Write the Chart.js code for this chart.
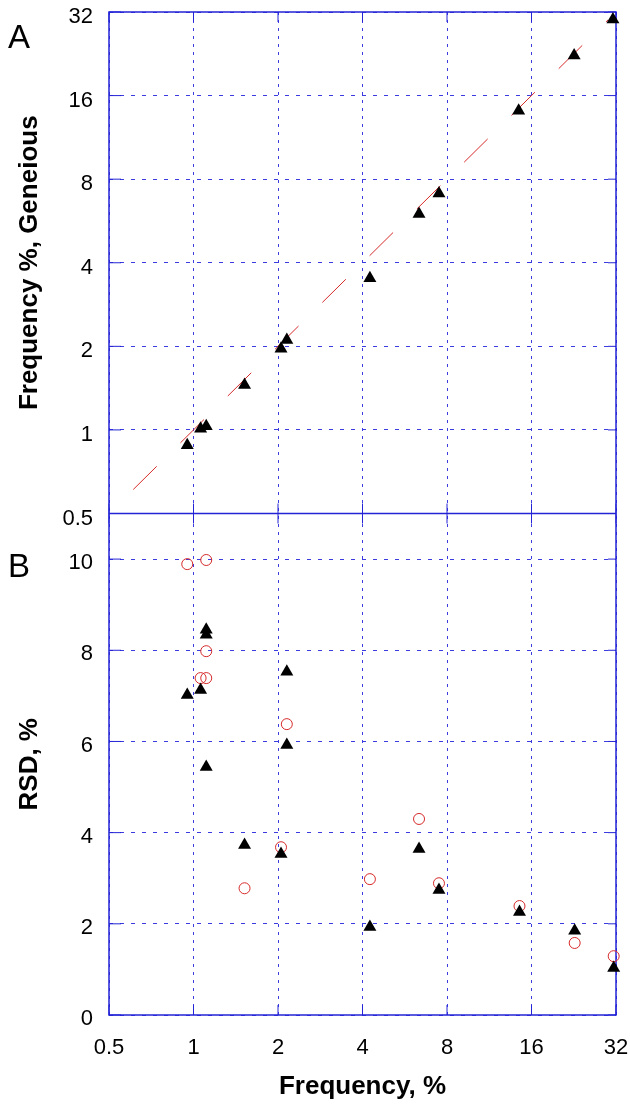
<!DOCTYPE html>
<html>
<head>
<meta charset="utf-8">
<script src="https://cdn.jsdelivr.net/npm/chart.js@4.4.1/dist/chart.umd.min.js"></script>
<style>
  html, body { margin: 0; padding: 0; background: #fff; }
  canvas { display: block; }
</style>
</head>
<body>
<canvas id="freqChart" width="630" height="1104"></canvas>
<script>
const xTicks = [0.5, 1, 2, 4, 8, 16, 32];
const yTicksA = [0.5, 1, 2, 4, 8, 16, 32];
const yTicksB = [0, 2, 4, 6, 8, 10];

// panel A: frequency vs frequency from Geneious
const geneX = [0.95, 1.06, 1.11, 1.52, 2.05, 2.15, 4.25, 6.36, 7.49, 14.4, 22.7, 31.2];
const geneY = [0.88, 1.01, 1.03, 1.45, 1.96, 2.11, 3.52, 5.99, 7.11, 14.1, 22.3, 30.1];
const fitX = [0.61, 30];
const fitY = [0.61, 30];

// panel B: RSD
const rsdTriX = [0.95, 1.06, 1.11, 1.11, 1.11, 1.52, 2.05, 2.15, 2.15, 4.25, 6.36, 7.49, 14.5, 22.8, 31.4];
const rsdTriY = [7.02, 7.13, 8.45, 8.34, 5.44, 3.73, 3.53, 7.53, 5.92, 1.93, 3.64, 2.74, 2.26, 1.85, 1.03];
const rsdCircX = [0.95, 1.06, 1.11, 1.11, 1.11, 1.52, 2.05, 2.15, 4.25, 6.36, 7.49, 14.5, 22.8, 31.4];
const rsdCircY = [9.89, 7.39, 9.98, 7.98, 7.39, 2.78, 3.68, 6.38, 2.98, 4.30, 2.89, 2.39, 1.58, 1.29];

const FONT = 'Arial, "Liberation Sans", sans-serif';
const gridColor = '#3b3be0';
const frameColor = '#2424d6';
const red = '#d62a2a';

const pts = (xs, ys) => xs.map((x, i) => ({ x, y: ys[i] }));
const setTicks = list => scale => { scale.ticks = list.map(v => ({ value: v })); };
// fixed box sizes, no extra room for labels hanging over the ends
const fitBox = (w, h) => s => {
    if (w) s.width = w;
    if (h) s.height = h;
    s.paddingTop = s.paddingBottom = s.paddingLeft = s.paddingRight = 0;
};

const tickFont = { family: FONT, size: 22 };
const titleFont = { family: FONT, size: 26, weight: 'bold' };

const framePlugin = {
    id: 'frame',
    beforeDatasetsDraw(chart) {
        const { ctx, chartArea: a, scales } = chart;
        const mid = Math.max(scales.yA.top, scales.yB.top);
        ctx.save();
        ctx.strokeStyle = frameColor;
        ctx.lineWidth = 1.5;
        ctx.strokeRect(a.left, a.top, a.right - a.left, a.bottom - a.top);
        ctx.beginPath();
        ctx.moveTo(a.left, mid);
        ctx.lineTo(a.right, mid);
        ctx.stroke();

        // short inward tick marks
        ctx.lineWidth = 1;
        ctx.beginPath();
        scales.x.ticks.forEach(t => {
            const px = scales.x.getPixelForValue(t.value);
            [[a.top, 10], [mid, -10], [mid, 10], [a.bottom, -10]].forEach(([y0, d]) => {
                ctx.moveTo(px, y0);
                ctx.lineTo(px, y0 + d);
            });
        });
        ['yA', 'yB'].forEach(id => {
            const s = scales[id];
            s.ticks.forEach(t => {
                const py = s.getPixelForValue(t.value);
                ctx.moveTo(a.left, py);
                ctx.lineTo(a.left + 12, py);
                ctx.moveTo(a.right, py);
                ctx.lineTo(a.right - 8, py);
            });
        });
        ctx.stroke();
        ctx.restore();
    },
    afterDraw(chart) {
        const { ctx, chartArea: a, scales } = chart;
        const mid = Math.max(scales.yA.top, scales.yB.top);
        ctx.save();
        ctx.fillStyle = '#000';
        ctx.font = '33px ' + FONT;
        ctx.textBaseline = 'alphabetic';
        ctx.fillText('A', 8, a.top + 36);
        ctx.fillText('B', 8, mid + 63);
        ctx.restore();
    }
};

new Chart(document.getElementById('freqChart'), {
    type: 'scatter',
    data: {
        datasets: [
            {
                label: 'Geneious',
                data: pts(geneX, geneY),
                xAxisID: 'x',
                yAxisID: 'yA',
                pointStyle: 'triangle',
                pointRadius: 7.5,
                backgroundColor: '#000',
                borderColor: '#000',
                borderWidth: 0,
                clip: false,
                order: 0
            },
            {
                label: 'Fit',
                type: 'line',
                data: pts(fitX, fitY),
                xAxisID: 'x',
                yAxisID: 'yA',
                borderColor: red,
                borderWidth: 1,
                borderDash: [33, 33.5],
                pointRadius: 0,
                fill: false,
                order: 2
            },
            {
                label: 'RSD triangles',
                data: pts(rsdTriX, rsdTriY),
                xAxisID: 'x',
                yAxisID: 'yB',
                pointStyle: 'triangle',
                pointRadius: 7.5,
                backgroundColor: '#000',
                borderColor: '#000',
                borderWidth: 0,
                clip: false,
                order: 0
            },
            {
                label: 'RSD circles',
                data: pts(rsdCircX, rsdCircY),
                xAxisID: 'x',
                yAxisID: 'yB',
                pointStyle: 'circle',
                pointRadius: 5.5,
                backgroundColor: 'rgba(0,0,0,0)',
                borderColor: red,
                borderWidth: 1,
                clip: false,
                order: 1
            }
        ]
    },
    options: {
        responsive: false,
        animation: false,
        devicePixelRatio: 1,
        layout: { padding: { top: 12, right: 14, left: 0, bottom: 0 } },
        plugins: { legend: { display: false }, tooltip: { enabled: false } },
        scales: {
            x: {
                type: 'logarithmic',
                position: 'bottom',
                min: 0.5,
                max: 32,
                afterBuildTicks: setTicks(xTicks),
                afterFit: fitBox(0, 89),
                grid: { color: gridColor, lineWidth: 1, drawTicks: false },
                border: { display: false, dash: [3, 5] },
                ticks: {
                    callback: v => String(v),
                    font: tickFont,
                    color: '#000',
                    padding: 20,
                    maxRotation: 0,
                    autoSkip: false
                },
                title: {
                    display: true,
                    text: 'Frequency, %',
                    font: titleFont,
                    color: '#000',
                    padding: { top: 0, bottom: 2 }
                }
            },
            yB: {
                type: 'linear',
                position: 'left',
                stack: 'panels',
                stackWeight: 1,
                min: 0,
                max: 11,
                afterBuildTicks: setTicks(yTicksB),
                afterFit: fitBox(109, 0),
                grid: { color: gridColor, lineWidth: 1, drawTicks: false },
                border: { display: false, dash: [4, 7] },
                ticks: {
                    callback: v => String(v),
                    font: tickFont,
                    color: '#000',
                    padding: 16,
                    labelOffset: 4
                },
                title: {
                    display: true,
                    text: 'RSD, %',
                    font: titleFont,
                    color: '#000',
                    padding: { top: 14, bottom: 0 }
                }
            },
            yA: {
                type: 'logarithmic',
                position: 'left',
                stack: 'panels',
                stackWeight: 1,
                min: 0.5,
                max: 32,
                afterBuildTicks: setTicks(yTicksA),
                afterFit: fitBox(109, 0),
                grid: { color: gridColor, lineWidth: 1, drawTicks: false },
                border: { display: false, dash: [4, 7] },
                ticks: {
                    callback: v => String(v),
                    font: tickFont,
                    color: '#000',
                    padding: 16,
                    labelOffset: 5
                },
                title: {
                    display: true,
                    text: 'Frequency %, Geneious',
                    font: titleFont,
                    color: '#000',
                    padding: { top: 14, bottom: 0 }
                }
            }
        }
    },
    plugins: [framePlugin]
});
</script>
</body>
</html>
